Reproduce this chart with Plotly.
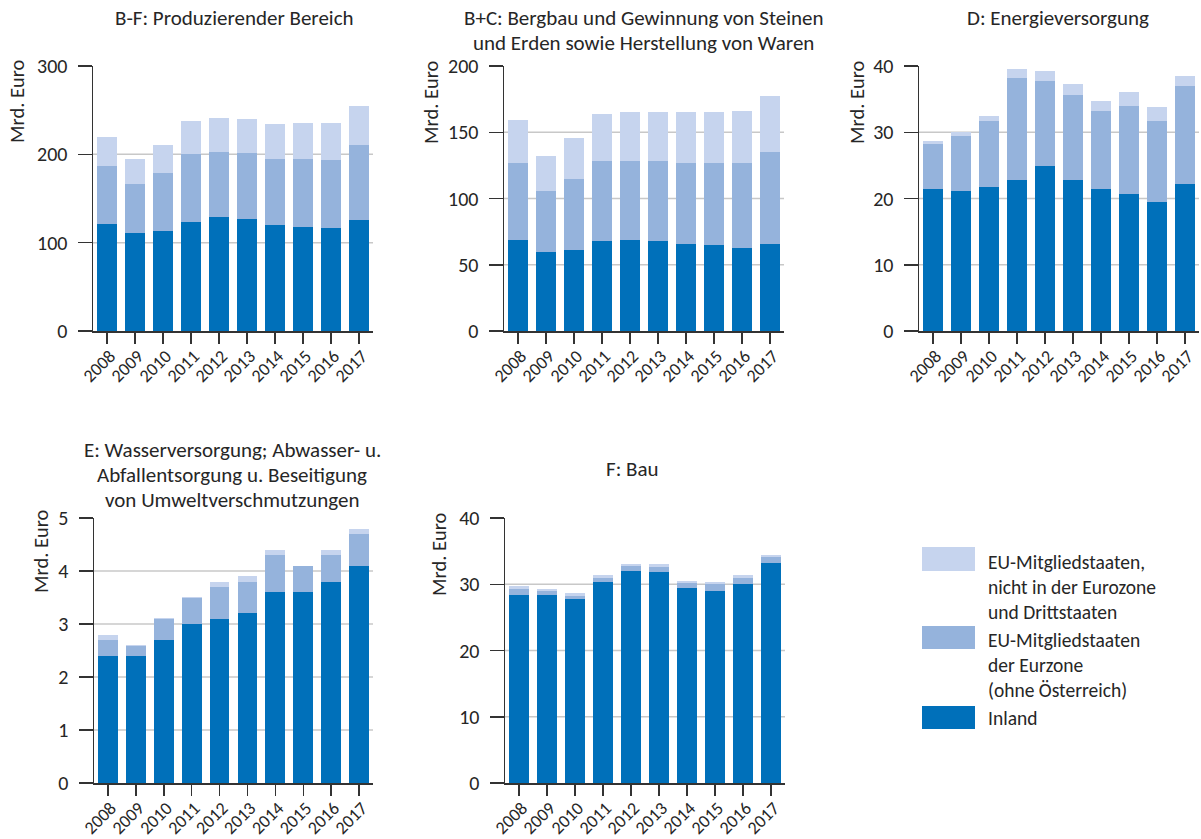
import plotly.graph_objects as go

W, H = 1201, 839

years = ["2008", "2009", "2010", "2011", "2012", "2013", "2014", "2015", "2016", "2017"]

series_names = [
    "Inland",
    "EU-Mitgliedstaaten der Eurzone (ohne Österreich)",
    "EU-Mitgliedstaaten, nicht in der Eurozone und Drittstaaten",
]
colors = ["#0070BA", "#95B3DC", "#C6D4EE"]

# B-F: Produzierender Bereich
bf_inland = [121, 111, 113, 123, 129, 127, 120, 118, 117, 126]
bf_euro = [66, 55, 66, 77, 74, 75, 75, 77, 77, 85]
bf_other = [33, 29, 32, 38, 38, 38, 39, 40, 41, 44]

# B+C
bc_inland = [69, 60, 61, 68, 69, 68, 66, 65, 63, 66]
bc_euro = [58, 46, 54, 60, 59, 60, 61, 62, 64, 69]
bc_other = [32, 26, 31, 36, 37, 37, 38, 38, 39, 42]

# D: Energieversorgung
d_inland = [21.4, 21.1, 21.7, 22.8, 24.9, 22.8, 21.4, 20.7, 19.5, 22.2]
d_euro = [6.8, 8.3, 10.0, 15.4, 12.8, 12.8, 11.8, 13.3, 12.2, 14.8]
d_other = [0.5, 0.6, 0.8, 1.3, 1.5, 1.7, 1.5, 2.1, 2.1, 1.5]

# E: Wasserversorgung
e_inland = [2.4, 2.4, 2.7, 3.0, 3.1, 3.2, 3.6, 3.6, 3.8, 4.1]
e_euro = [0.3, 0.18, 0.4, 0.5, 0.6, 0.6, 0.7, 0.5, 0.5, 0.6]
e_other = [0.1, 0.02, 0.01, 0.01, 0.1, 0.1, 0.1, 0.0, 0.1, 0.1]

# F: Bau
f_inland = [28.4, 28.4, 27.8, 30.3, 32.0, 31.8, 29.4, 29.0, 30.0, 33.2]
f_euro = [0.9, 0.6, 0.4, 0.6, 0.7, 0.8, 0.8, 1.0, 0.9, 0.9]
f_other = [0.4, 0.3, 0.5, 0.5, 0.3, 0.4, 0.3, 0.3, 0.5, 0.3]

titles = [
    ["B-F: Produzierender Bereich"],
    ["B+C: Bergbau und Gewinnung von Steinen", "und Erden sowie Herstellung von Waren"],
    ["D: Energieversorgung"],
    ["E: Wasserversorgung; Abwasser- u.", "Abfallentsorgung u. Beseitigung", "von Umweltverschmutzungen"],
    ["F: Bau"],
]
y_max = [300, 200, 40, 5, 40]
y_step = [100, 50, 10, 1, 10]
y_label = "Mrd. Euro"

legend_lines = [
    ["EU-Mitgliedstaaten,", "nicht in der Eurozone", "und Drittstaaten"],
    ["EU-Mitgliedstaaten", "der Eurzone", "(ohne Österreich)"],
    ["Inland"],
]

panels = [
    (bf_inland, bf_euro, bf_other),
    (bc_inland, bc_euro, bc_other),
    (d_inland, d_euro, d_other),
    (e_inland, e_euro, e_other),
    (f_inland, f_euro, f_other),
]

# layout geometry in reference pixels: (x0, x1, ytop, ybottom)
boxes = [
    (93, 373, 66, 331),
    (504, 784, 66, 331),
    (919, 1199, 66, 331),
    (94, 373, 518, 783),
    (505, 785, 518, 783),
]
title_pos = [(234, 18), (644, 18), (1058, 18), (232, 450), (632, 469)]
ylab_pos = [(17, 57), (431, 58), (857, 58), (41, 507), (439, 510)]
LINE = 25

def px(x):
    return x / W

def py(y):
    return 1 - y / H

TXT = "#262626"
AX = "#333333"
FONT = "Carlito, Calibri, Lato, sans-serif"

fig = go.Figure()
layout = dict(
    width=W, height=H, autosize=False,
    margin=dict(l=0, r=0, t=0, b=0),
    paper_bgcolor="white", plot_bgcolor="white",
    barmode="stack", bargap=0.29, showlegend=False,
    font=dict(family=FONT, color=TXT, size=20),
)
shapes = []
annotations = []

for i, (vals, box) in enumerate(zip(panels, boxes)):
    n = i + 1
    xa = "x" if n == 1 else f"x{n}"
    ya = "y" if n == 1 else f"y{n}"
    for k, (v, c, name) in enumerate(zip(vals, colors, series_names)):
        fig.add_trace(go.Bar(
            x=years, y=v, name=name, marker=dict(color=c, line=dict(width=0)),
            xaxis=xa, yaxis=ya, showlegend=False,
        ))
    x0, x1, yt, yb = box
    layout[f"xaxis{n}"] = dict(
        domain=[px(x0), px(x1)], anchor=ya, type="category",
        range=[-0.5, 9.5], showline=True, linecolor=AX, linewidth=1.5,
        ticks="outside", ticklen=11, tickwidth=1.5, tickcolor=AX,
        tickangle=-45, tickfont=dict(size=18, color=TXT, family=FONT),
        ticklabelstandoff=-5, ticklabelshift=3,
        showgrid=False, zeroline=False, fixedrange=True, automargin=False,
    )
    layout[f"yaxis{n}"] = dict(
        domain=[py(yb), py(yt)], anchor=xa, range=[0, y_max[i]],
        tickmode="linear", tick0=0, dtick=y_step[i],
        showline=True, linecolor=AX, linewidth=1.5,
        ticks="outside", ticklen=14, tickwidth=1.5, tickcolor=AX,
        tickfont=dict(size=20, color=TXT, family=FONT), ticklabelstandoff=6,
        showgrid=False, zeroline=False, fixedrange=True, automargin=False,
    )
    g = y_step[i]
    while g < y_max[i] - 1e-9:
        shapes.append(dict(
            type="line", xref=f"{xa} domain", yref=ya, x0=0, x1=1, y0=g, y1=g,
            line=dict(color="#C8C8C8", width=1.5), layer="below",
        ))
        g += y_step[i]
    tx, ty = title_pos[i]
    for j, line in enumerate(titles[i]):
        annotations.append(dict(
            text=line, xref="paper", yref="paper", x=px(tx), y=py(ty + j * LINE),
            xanchor="center", yanchor="middle", showarrow=False,
            font=dict(size=21, color=TXT, family=FONT),
        ))
    lx, ly = ylab_pos[i]
    annotations.append(dict(
        text=y_label, xref="paper", yref="paper", x=px(lx), y=py(ly),
        xanchor="center", yanchor="top", showarrow=False, textangle=-90,
        font=dict(size=20.5, color=TXT, family=FONT),
    ))

# legend drawn manually
leg_sw = [(547, 571, colors[2]), (626, 649, colors[1]), (706, 729, colors[0])]
leg_txt_y = [562, 640, 718]
for (y0, y1, c), lines, ty in zip(leg_sw, legend_lines, leg_txt_y):
    shapes.append(dict(
        type="rect", xref="paper", yref="paper", x0=px(922), x1=px(975),
        y0=py(y1), y1=py(y0), fillcolor=c, line=dict(width=0),
    ))
    for j, line in enumerate(lines):
        annotations.append(dict(
            text=line, xref="paper", yref="paper", x=px(986), y=py(ty + j * LINE),
            xanchor="left", yanchor="middle", showarrow=False,
            font=dict(size=19.5, color=TXT, family=FONT),
        ))

layout["shapes"] = shapes
layout["annotations"] = annotations
layout["hovermode"] = False
fig.update_layout(**layout)
fig.write_html(
    "out.html",
    config={"displayModeBar": False, "staticPlot": True},
    post_script="document.body.style.margin='0px';",
)
